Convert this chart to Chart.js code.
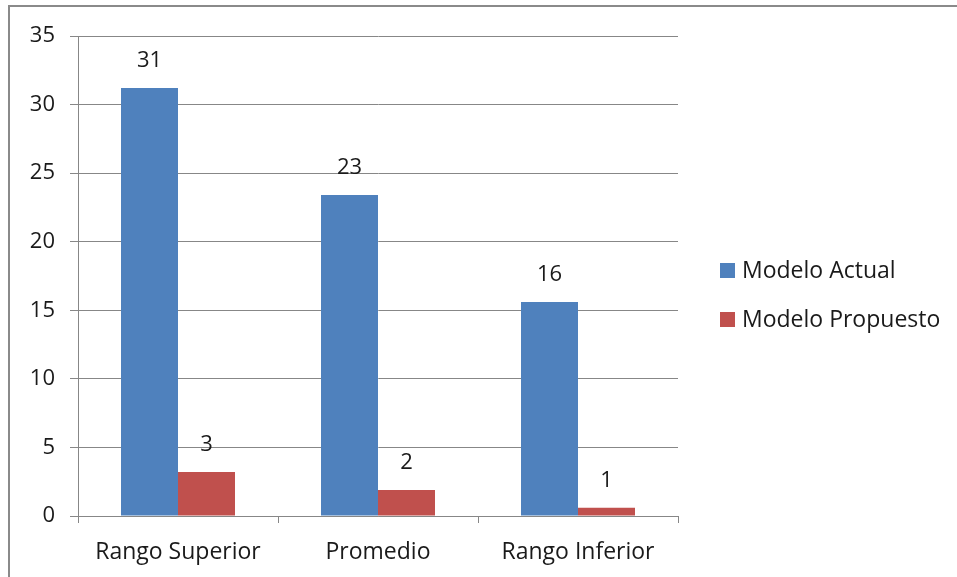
<!DOCTYPE html>
<html>
<head>
<meta charset="utf-8">
<script src="https://cdn.jsdelivr.net/npm/chart.js@4/dist/chart.umd.min.js"></script>
<style>
  html, body { margin: 0; padding: 0; background: #fff; }
  #wrap { width: 957px; height: 577px; position: relative; }
</style>
</head>
<body>
<div id="wrap"><canvas id="barChart"></canvas></div>
<script>
const categories = ['Rango Superior', 'Promedio', 'Rango Inferior'];
const seriesNames = ['Modelo Actual', 'Modelo Propuesto'];
const modeloActual = [31.2, 23.4, 15.6];
const modeloPropuesto = [3.2, 1.9, 0.6];
const yTicks = [0, 5, 10, 15, 20, 25, 30, 35];

const BLUE = '#4F81BD';
const RED = '#C0504D';
const GRID = '#878787';
const FONT = 'Open Sans';

Chart.defaults.font.family = FONT;
Chart.defaults.color = '#1a1a1a';

const ctx = document.getElementById('barChart').getContext('2d');

// frame around the picture (only top and left edges are visible)
const framePlugin = {
  id: 'frame',
  beforeDraw: function(chart) {
    const c = chart.ctx;
    c.save();
    c.fillStyle = '#fff';
    c.fillRect(0, 0, chart.width, chart.height);
    c.strokeStyle = '#8a8a8a';
    c.lineWidth = 2;
    c.strokeRect(9, 6, chart.width + 20, chart.height + 20);
    c.restore();
  }
};

// value labels above each bar
const valueLabels = {
  id: 'valueLabels',
  afterDatasetsDraw: function(chart) {
    const c = chart.ctx;
    c.save();
    c.font = '22px "' + FONT + '"';
    c.fillStyle = '#1a1a1a';
    c.textAlign = 'center';
    c.textBaseline = 'middle';
    chart.data.datasets.forEach(function(ds, i) {
      chart.getDatasetMeta(i).data.forEach(function(bar, j) {
        c.fillText(String(Math.round(ds.data[j])), bar.x, bar.y - 27);
      });
    });
    c.restore();
  }
};

// legend on the right, next to the plot
const sideLegend = {
  id: 'sideLegend',
  afterDraw: function(chart) {
    const c = chart.ctx;
    const area = chart.chartArea;
    const x0 = area.right + 42;
    const yStart = 270;
    const gap = 49;
    c.save();
    c.font = '23px "' + FONT + '"';
    c.textBaseline = 'middle';
    c.textAlign = 'left';
    chart.data.datasets.forEach(function(ds, i) {
      const y = yStart + i * gap;
      c.fillStyle = ds.backgroundColor;
      c.fillRect(x0, y - 7, 15, 15);
      c.fillStyle = '#1a1a1a';
      c.fillText(ds.label, x0 + 22, y + 1);
    });
    c.restore();
  }
};

new Chart(ctx, {
  type: 'bar',
  data: {
    labels: categories,
    datasets: [
      { label: seriesNames[0], data: modeloActual, backgroundColor: BLUE },
      { label: seriesNames[1], data: modeloPropuesto, backgroundColor: RED }
    ]
  },
  options: {
    responsive: true,
    maintainAspectRatio: false,
    animation: false,
    layout: { padding: { top: 36, right: 279, bottom: 0, left: 0 } },
    datasets: {
      bar: { categoryPercentage: 0.57, barPercentage: 1.0 }
    },
    plugins: {
      legend: { display: false },
      tooltip: { enabled: false }
    },
    scales: {
      x: {
        grid: { drawOnChartArea: false, drawTicks: true, tickLength: 7, color: GRID, offset: true },
        border: { display: true, color: GRID },
        ticks: { font: { size: 23 }, color: '#1a1a1a', padding: 16 },
        afterFit: function(scale) { scale.height = 61; }
      },
      y: {
        min: 0,
        max: 35,
        grid: { color: GRID, tickLength: 8 },
        border: { display: true, color: GRID },
        afterBuildTicks: function(scale) {
          scale.ticks = yTicks.map(function(v) { return { value: v }; });
        },
        ticks: { font: { size: 22 }, color: '#1a1a1a', padding: 15 },
        afterFit: function(scale) { scale.width = 78; }
      }
    }
  },
  plugins: [framePlugin, valueLabels, sideLegend]
});
</script>
</body>
</html>
